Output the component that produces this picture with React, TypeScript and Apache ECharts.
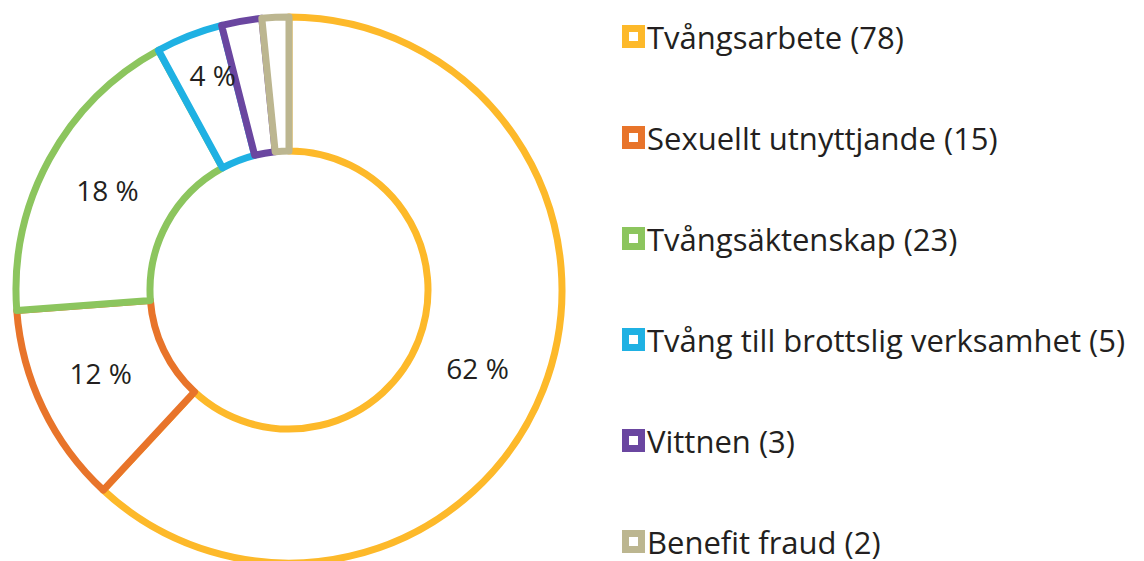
import React, { useEffect, useRef } from "react";
import * as echarts from "echarts";

const categories = [
  "Tvångsarbete (78)",
  "Sexuellt utnyttjande (15)",
  "Tvångsäktenskap (23)",
  "Tvång till brottslig verksamhet (5)",
  "Vittnen (3)",
  "Benefit fraud (2)",
];
const values = [78, 15, 23, 5, 3, 2];
const colors = ["#FDB92A", "#E8742A", "#8CC55E", "#1FB1E3", "#6A46A0", "#BCB690"];
const showLabel = [true, true, true, true, false, false];

const FONT = "'Open Sans', 'Noto Sans', sans-serif";
const TEXT = "#231f20";

export default function App() {
  const ref = useRef<HTMLDivElement>(null);
  useEffect(() => {
    if (!ref.current) return;
    const chart = echarts.init(ref.current, undefined, { renderer: "svg" });
    const icon = "path://M0,0H23V23H0Z M7,7V16H16V7Z";
    const labelShift: number[][] = [[-6, 2], [0, -8], [2, 0], [0, -20], [0, 0], [0, 0]];
    chart.setOption({
      animation: false,
      backgroundColor: "#ffffff",
      legend: {
        orient: "vertical",
        left: 622,
        top: 21,
        padding: 0,
        itemWidth: 23,
        itemHeight: 23,
        itemGap: 70,
        selectedMode: false,
        icon,
        data: categories.map((c, i) => ({
          name: c,
          icon,
          itemStyle: { color: colors[i], borderWidth: 0 },
        })),
        textStyle: {
          fontSize: 31,
          lineHeight: 31,
          color: TEXT,
          fontFamily: FONT,
          padding: [0, 0, 0, -3],
        },
      },
      series: [
        {
          type: "pie",
          center: [289, 290],
          radius: [139, 273],
          startAngle: 90,
          clockwise: true,
          percentPrecision: 0,
          avoidLabelOverlap: false,
          labelLine: { show: false },
          emphasis: { disabled: true },
          data: categories.map((c, i) => ({
            name: c,
            value: values[i],
            itemStyle: {
              color: "#ffffff",
              borderColor: colors[i],
              borderWidth: 7,
            },
            label: {
              show: showLabel[i],
              position: "inside",
              formatter: "{d} %",
              fontSize: 28,
              color: TEXT,
              fontFamily: FONT,
              offset: labelShift[i],
            },
          })),
        },
      ],
    });
    return () => chart.dispose();
  }, []);
  return (
    <div
      ref={ref}
      style={{ position: "fixed", left: 0, top: 0, width: 1144, height: 561 }}
    />
  );
}
